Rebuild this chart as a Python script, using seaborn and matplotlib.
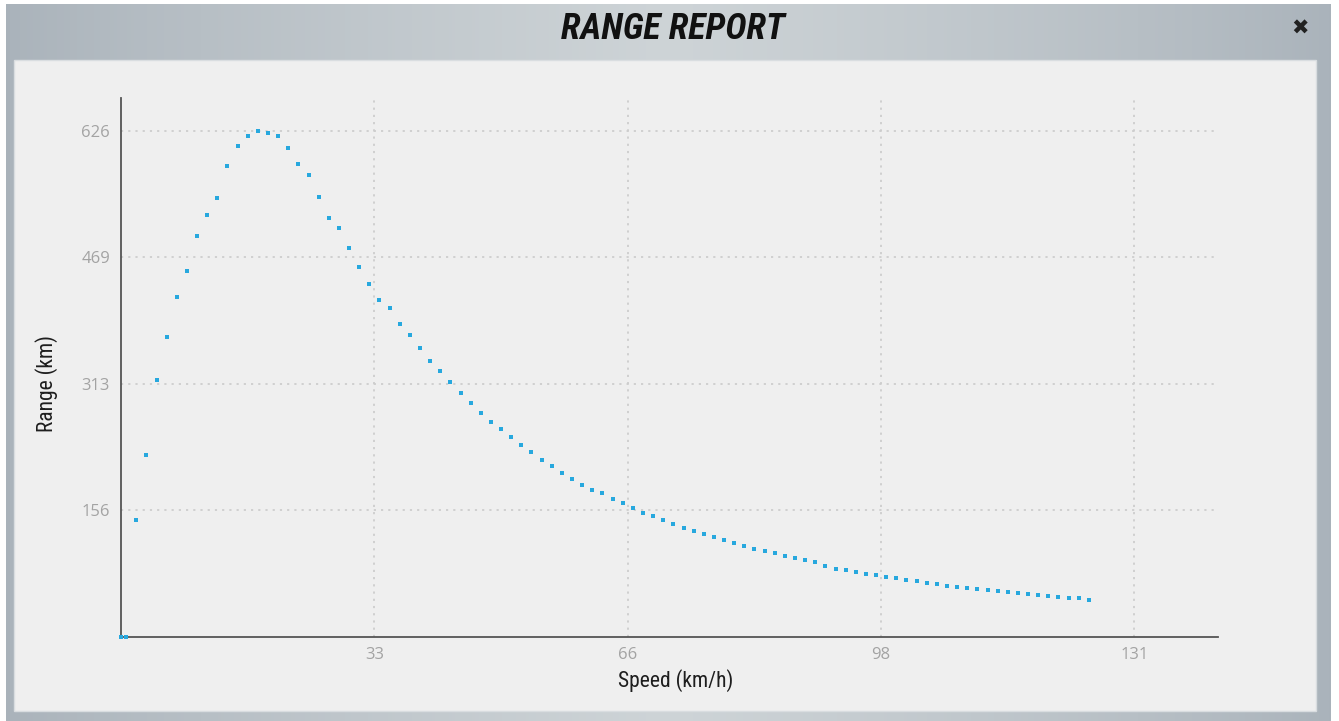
import numpy as np
import pandas as pd
import matplotlib
matplotlib.use("Agg")
import matplotlib.pyplot as plt
from matplotlib import font_manager
from matplotlib.patches import Rectangle
import seaborn as sns

# Speed samples (km/h) and the estimated range (km) at each speed
speeds = [0.0, 0.66, 1.97, 3.28, 4.59, 5.90, 7.21, 8.52, 9.83, 11.14, 12.45,
          13.76, 15.07, 16.38, 17.69, 19.00, 20.31, 21.62, 22.93, 24.24, 25.55,
          26.86, 28.17, 29.48, 30.79, 32.10, 33.41, 34.72, 36.03, 37.34, 38.65,
          39.96, 41.27, 42.58, 43.89, 45.20, 46.51, 47.82, 49.13, 50.44, 51.75,
          53.06, 54.37, 55.68, 56.99, 58.30, 59.61, 60.92, 62.23, 63.54, 64.85,
          66.16, 67.47, 68.78, 70.09, 71.40, 72.71, 74.02, 75.33, 76.64, 77.95,
          79.26, 80.57, 81.88, 83.19, 84.50, 85.81, 87.12, 88.43, 89.74, 91.05,
          92.36, 93.67, 94.98, 96.29, 97.60, 98.91, 100.22, 101.53, 102.84, 104.15,
          105.46, 106.77, 108.08, 109.39, 110.70, 112.01, 113.32, 114.63, 115.94,
          117.25, 118.56, 119.87, 121.18, 122.49, 123.80, 125.11]
ranges = [0.0, 0.0, 145.0, 224.4, 317.1, 370.7, 420.4, 452.9, 495.4, 522.1, 543.1,
          582.3, 607.4, 618.9, 625.5, 623.4, 619.3, 604.9, 584.4, 571.1, 544.3,
          517.7, 505.3, 481.3, 457.9, 436.1, 416.4, 406.5, 386.7, 373.5, 357.1,
          341.0, 329.4, 315.5, 301.9, 288.7, 276.8, 265.2, 257.0, 247.2, 237.3,
          228.1, 219.1, 210.8, 202.7, 195.7, 188.2, 181.7, 177.5, 170.9, 165.1,
          159.5, 153.7, 149.1, 144.1, 139.7, 135.1, 131.0, 126.9, 123.1, 119.4,
          116.2, 112.0, 108.8, 105.9, 103.4, 100.2, 97.7, 95.2, 92.3, 87.8,
          84.5, 82.4, 79.9, 77.9, 76.2, 74.2, 72.5, 70.9, 69.3, 66.8,
          65.1, 63.5, 62.3, 61.0, 59.4, 57.7, 56.4, 55.2, 54.0, 52.7,
          51.5, 50.3, 49.5, 48.7, 47.8, 46.2]

x_ticks = [32.75, 65.5, 98.25, 131.0]
x_tick_labels = ["33", "66", "98", "131"]
y_ticks = [156.5, 313.0, 469.5, 626.0]
y_tick_labels = ["156", "313", "469", "626"]

title_text = "RANGE REPORT"
x_label = "Speed (km/h)"
y_label = "Range (km)"


def pick_font(candidates):
    names = {f.name for f in font_manager.fontManager.ttflist}
    for c in candidates:
        if c in names:
            return c
    return "DejaVu Sans"


narrow = pick_font(["Liberation Sans Narrow", "DejaVu Sans Condensed",
                    "Roboto Condensed", "Liberation Sans"])
tick_font = pick_font(["Liberation Sans Narrow", "Open Sans", "DejaVu Sans"])

sns.set_style("white")
plt.rcParams["font.family"] = [narrow, "DejaVu Sans"]

W, H = 1339, 721
fig = plt.figure(figsize=(W / 100, H / 100), dpi=100)

# window frame: grey horizontal gradient with a light content panel
bg = fig.add_axes([0, 0, 1, 1], zorder=-10)
t = np.linspace(0, 1, 400)
shade = 1 - np.abs(t - 0.5) * 2
c_edge = np.array([0xa9, 0xb2, 0xba]) / 255
c_mid = np.array([0xce, 0xd4, 0xd7]) / 255
grad = c_edge[None, :] + (c_mid - c_edge)[None, :] * (shade ** 0.8)[:, None]
bg.imshow(grad[None, :, :], extent=[0, W, H, 0], aspect="auto")
bg.set_xlim(0, W)
bg.set_ylim(H, 0)
bg.axis("off")
bg.add_patch(Rectangle((0, 0), 6, H, color="white", lw=0))
bg.add_patch(Rectangle((1331, 0), W - 1331, H, color="white", lw=0))
bg.add_patch(Rectangle((0, 0), W, 4, color="white", lw=0))
bg.add_patch(Rectangle((14, 60), 1302, 651, facecolor="#efefef",
                       edgecolor="#d9dde0", lw=1))

# scatter plot area
ax = fig.add_axes([121 / W, 1 - 637 / H, (1218 - 121) / W, (637 - 98) / H])
ax.patch.set_alpha(0)
df = pd.DataFrame({"speed": speeds, "range": ranges})
sns.scatterplot(data=df, x="speed", y="range", marker="s", s=6.5,
                color="#27a8de", linewidth=0, ax=ax, zorder=3, clip_on=False)

ax.set_xlim(0, 141.8)
ax.set_ylim(0, 666.3)
ax.set_xticks(x_ticks)
ax.set_xticklabels(x_tick_labels)
ax.set_yticks(y_ticks)
ax.set_yticklabels(y_tick_labels)
ax.tick_params(length=0, colors="#a3a3a3", labelsize=12)
ax.tick_params(axis="x", pad=7)
ax.tick_params(axis="y", pad=8)
for lab in ax.get_xticklabels() + ax.get_yticklabels():
    lab.set_family([tick_font, "DejaVu Sans"])
ax.grid(True, color="#cdcdcd", linestyle=(0, (1.2, 2.8)), linewidth=1.3)
ax.set_axisbelow(True)

for side in ("top", "right"):
    ax.spines[side].set_visible(False)
for side in ("left", "bottom"):
    ax.spines[side].set_color("#555555")
    ax.spines[side].set_linewidth(1.3)

ax.set_xlabel(x_label, fontsize=15.5, color="#1e1e1e")
ax.set_ylabel(y_label, fontsize=15.5, color="#1e1e1e")
ax.xaxis.set_label_coords(0.506, -0.0798)
ax.yaxis.set_label_coords(-0.0675, 0.471)
ax.xaxis.label.set_va("center")
ax.yaxis.label.set_va("center")

fig.text(673 / W, 1 - 29 / H, title_text, ha="center", va="center",
         fontsize=26, fontweight="bold", fontstyle="italic", color="#111111")
fig.text(1300 / W, 1 - 29 / H, "\u2716", ha="center", va="center",
         fontsize=15, color="#222222", family="DejaVu Sans")

fig.savefig("out.png", dpi=100)
